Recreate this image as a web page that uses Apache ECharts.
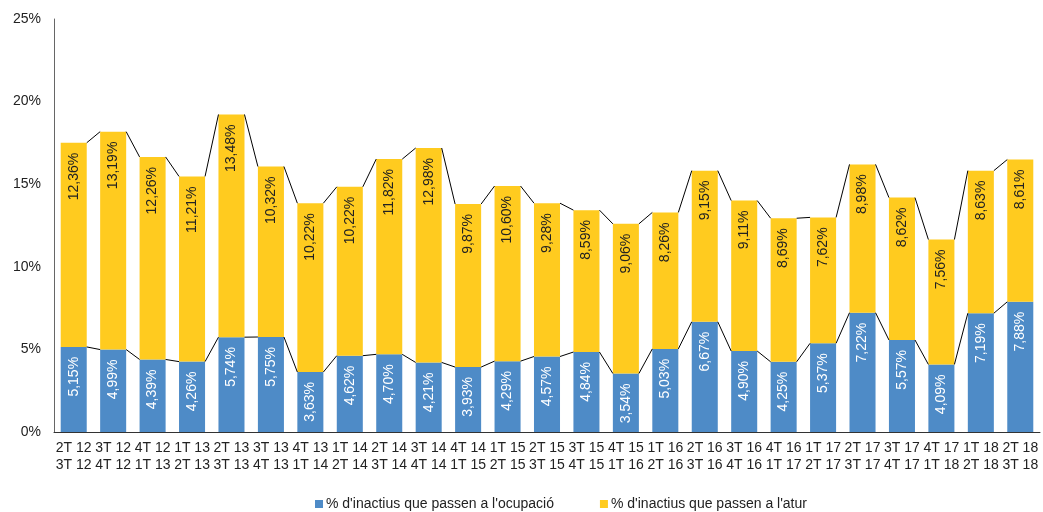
<!DOCTYPE html>
<html>
<head>
<meta charset="utf-8">
<script src="https://cdn.jsdelivr.net/npm/echarts@6/dist/echarts.min.js"></script>
<style>
html, body { margin: 0; padding: 0; background: #fff; }
#chartData { width: 1043px; height: 512px; }
</style>
</head>
<body>
<div id="chartData"></div>
<script>
// trimestres (de / a)
var categories = [
    '2T 12\n3T 12', '3T 12\n4T 12', '4T 12\n1T 13', '1T 13\n2T 13', '2T 13\n3T 13',
    '3T 13\n4T 13', '4T 13\n1T 14', '1T 14\n2T 14', '2T 14\n3T 14', '3T 14\n4T 14',
    '4T 14\n1T 15', '1T 15\n2T 15', '2T 15\n3T 15', '3T 15\n4T 15', '4T 15\n1T 16',
    '1T 16\n2T 16', '2T 16\n3T 16', '3T 16\n4T 16', '4T 16\n1T 17', '1T 17\n2T 17',
    '2T 17\n3T 17', '3T 17\n4T 17', '4T 17\n1T 18', '1T 18\n2T 18', '2T 18\n3T 18'
];
var ocupacio = [5.15, 4.99, 4.39, 4.26, 5.74, 5.75, 3.63, 4.62, 4.70, 4.21,
    3.93, 4.29, 4.57, 4.84, 3.54, 5.03, 6.67, 4.90, 4.25, 5.37,
    7.22, 5.57, 4.09, 7.19, 7.88];
var atur = [12.36, 13.19, 12.26, 11.21, 13.48, 10.32, 10.22, 10.22, 11.82, 12.98,
    9.87, 10.60, 9.28, 8.59, 9.06, 8.26, 9.15, 9.11, 8.69, 7.62,
    8.98, 8.62, 7.56, 8.63, 8.61];
var seriesNames = ["% d'inactius que passen a l'ocupació", "% d'inactius que passen a l'atur"];
var yTicks = [0, 5, 10, 15, 20, 25];

var font = 'Arial, "Liberation Sans", sans-serif';
var barRatio = 0.66;

// línies de sèrie entre barres
var connectors = [];
for (var i = 0; i < categories.length - 1; i++) {
    connectors.push([i, ocupacio[i], ocupacio[i] + atur[i], ocupacio[i + 1], ocupacio[i + 1] + atur[i + 1]]);
}

var fmt = function (p) {
    return p.value.toFixed(2).replace('.', ',') + '%';
};

var barLabel = function (color) {
    return {
        show: true,
        position: 'insideTop',
        distance: 10,
        rotate: 90,
        align: 'right',
        verticalAlign: 'middle',
        formatter: fmt,
        fontFamily: font,
        fontSize: 14,
        color: color
    };
};

var myChart = echarts.init(document.getElementById('chartData'));

var option = {
    animation: false,
    textStyle: { fontFamily: font },
    grid: { left: 54, right: 3, top: 19, bottom: 80, containLabel: false },
    legend: {
        data: seriesNames,
        top: 497,
        left: 315,
        padding: 0,
        itemWidth: 8,
        itemHeight: 8,
        itemGap: 46,
        icon: 'rect',
        textStyle: { fontFamily: font, fontSize: 14, color: '#222', padding: [0, 0, 0, -2] }
    },
    xAxis: {
        type: 'category',
        data: categories,
        axisLine: { lineStyle: { color: '#333', width: 1 } },
        axisTick: { show: false },
        axisLabel: {
            interval: 0,
            fontFamily: font,
            fontSize: 14,
            color: '#222',
            lineHeight: 17,
            margin: 8
        }
    },
    yAxis: {
        type: 'value',
        min: yTicks[0],
        max: yTicks[yTicks.length - 1],
        interval: 5,
        splitLine: { show: false },
        axisTick: { show: false },
        axisLine: { show: true, lineStyle: { color: '#666', width: 1 } },
        axisLabel: {
            formatter: '{value}%',
            fontFamily: font,
            fontSize: 14,
            color: '#222',
            margin: 13
        }
    },
    series: [
        {
            name: seriesNames[0],
            type: 'bar',
            stack: 'total',
            barWidth: (barRatio * 100) + '%',
            itemStyle: { color: '#4E8BC7' },
            label: barLabel('#fff'),
            data: ocupacio
        },
        {
            name: seriesNames[1],
            type: 'bar',
            stack: 'total',
            barWidth: (barRatio * 100) + '%',
            itemStyle: { color: '#FFCB1F' },
            label: barLabel('#222'),
            data: atur
        },
        {
            type: 'custom',
            silent: true,
            z: 5,
            encode: { x: 0, y: 1 },
            renderItem: function (params, api) {
                var i = api.value(0);
                var half = api.size([1, 0])[0] * barRatio / 2;
                var a1 = api.coord([i, api.value(1)]);
                var a2 = api.coord([i + 1, api.value(3)]);
                var b1 = api.coord([i, api.value(2)]);
                var b2 = api.coord([i + 1, api.value(4)]);
                var style = { stroke: '#000', lineWidth: 1 };
                return {
                    type: 'group',
                    children: [
                        { type: 'line', shape: { x1: a1[0] + half, y1: a1[1], x2: a2[0] - half, y2: a2[1] }, style: style },
                        { type: 'line', shape: { x1: b1[0] + half, y1: b1[1], x2: b2[0] - half, y2: b2[1] }, style: style }
                    ]
                };
            },
            data: connectors
        }
    ]
};

myChart.setOption(option);
</script>
</body>
</html>
